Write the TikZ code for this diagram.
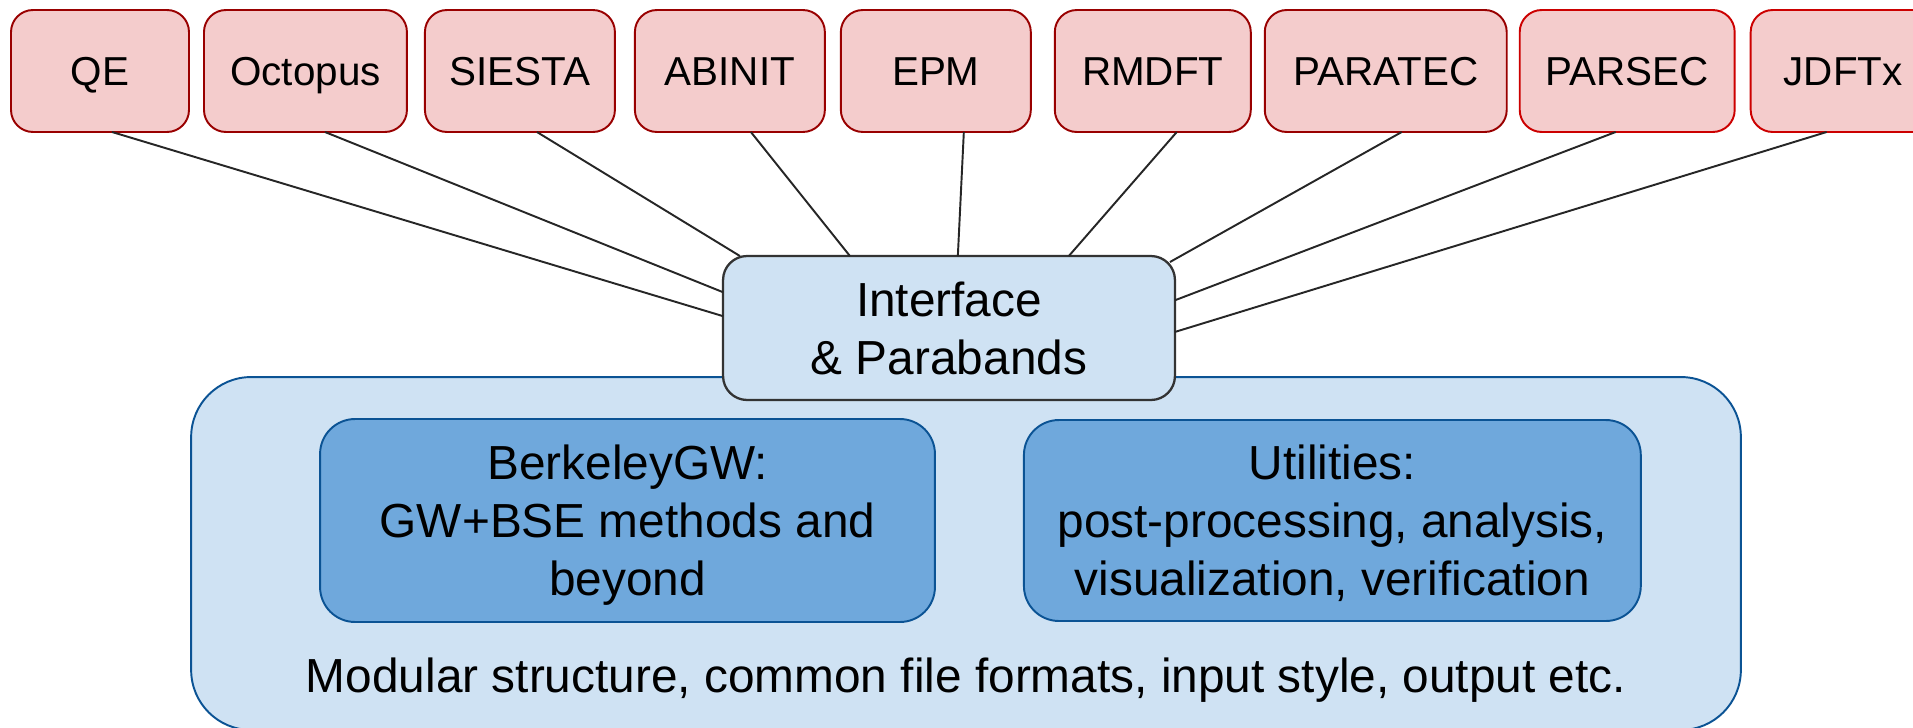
\documentclass[tikz,border=0pt]{standalone}
\usepackage{fontspec}
\setmainfont{Liberation Sans}
\usetikzlibrary{positioning,calc}
\definecolor{codefill}{HTML}{F4CCCC}
\definecolor{codeline}{HTML}{990000}
\definecolor{codeline2}{HTML}{CC0000}
\definecolor{paleblue}{HTML}{CFE2F3}
\definecolor{midblue}{HTML}{6FA8DC}
\definecolor{deepblue}{HTML}{0B5394}
\tikzset{
  code/.style={draw=codeline, fill=codefill, line width=1.1pt, rounded corners=0.44cm,
    minimum height=2.44cm, inner sep=0pt, outer sep=0pt, text height=16.5pt, text depth=0pt,
    font=\fontsize{23}{28}\selectfont},
  hub/.style={draw=black!80, fill=paleblue, line width=1.3pt, rounded corners=0.48cm,
    minimum width=9.04cm, minimum height=2.88cm, align=center, outer sep=0pt,
    font=\fontsize{27.2}{33}\selectfont},
  frame/.style={draw=deepblue, fill=paleblue, line width=1.1pt, rounded corners=1.2cm, outer sep=0pt},
  module/.style={draw=deepblue, fill=midblue, line width=1.1pt, rounded corners=0.7cm,
    align=center, outer sep=0pt, text depth=0pt, font=\fontsize{27.2}{33}\selectfont},
  link/.style={draw=black!85, line width=1.1pt}
}
\begin{document}
\begin{tikzpicture}[x=0.02cm, y=-0.02cm]
\useasboundingbox (0,0) rectangle (1913,727);
\clip (0,0) rectangle (1913,727);
% common frame with the two modules
\node[frame, minimum width=31cm, minimum height=7.06cm] (base) at (966,553.5) {};
 \node[module, minimum width=12.3cm, minimum height=4.06cm] (bgw) at (627.5,520.5) {BerkeleyGW:\\GW+BSE methods and\\beyond};
 \node[module, minimum width=12.34cm, minimum height=4.02cm, right=1.78cm of bgw] (utils) {Utilities:\\post-processing, analysis,\\visualization, verification};
\node[font=\fontsize{27.2}{33}\selectfont, anchor=base] (note) at (966,692) {Modular structure, common file formats, input style, output etc.};
\node[hub] (hub) at (949,328) {Interface\\\& Parabands};
% DFT codes
\node[code, minimum width=3.56cm] (qe) at (100,71) {QE};
  \node[code, minimum width=4.06cm, right=0.3cm of qe] (octopus) {Octopus};
  \node[code, minimum width=3.8cm, right=0.36cm of octopus] (siesta) {SIESTA};
  \node[code, minimum width=3.8cm, right=0.4cm of siesta] (abinit) {ABINIT};
  \node[code, minimum width=3.8cm, right=0.32cm of abinit] (epm) {EPM};
  \node[code, minimum width=3.92cm, right=0.48cm of epm] (rmdft) {RMDFT};
  \node[code, minimum width=4.84cm, right=0.28cm of rmdft] (paratec) {PARATEC};
  \node[code, draw=codeline2, minimum width=4.3cm, right=0.26cm of paratec] (parsec) {PARSEC};
  \node[code, draw=codeline2, minimum width=3.7cm, right=0.32cm of parsec] (jdftx) {JDFTx};
\draw[link] ([xshift=0.24cm]qe.south) -- (hub.177);
\draw[link] ([xshift=0.39cm]octopus.south) -- (hub.171);
\draw[link] ([xshift=0.34cm]siesta.south) -- (hub.161);
\draw[link] ([xshift=0.42cm]abinit.south) -- (hub.144);
\draw[link] ([xshift=0.56cm]epm.south) -- (hub.83);
\draw[link] ([xshift=0.48cm]rmdft.south) -- (hub.31);
\draw[link] ([xshift=0.32cm]paratec.south) -- ($(hub.north east)+(-5,6)$);
\draw[link] ([xshift=-0.23cm]parsec.south) -- (hub.7);
\draw[link] ([xshift=-0.33cm]jdftx.south) -- (hub.-1);
\end{tikzpicture}
\end{document}
